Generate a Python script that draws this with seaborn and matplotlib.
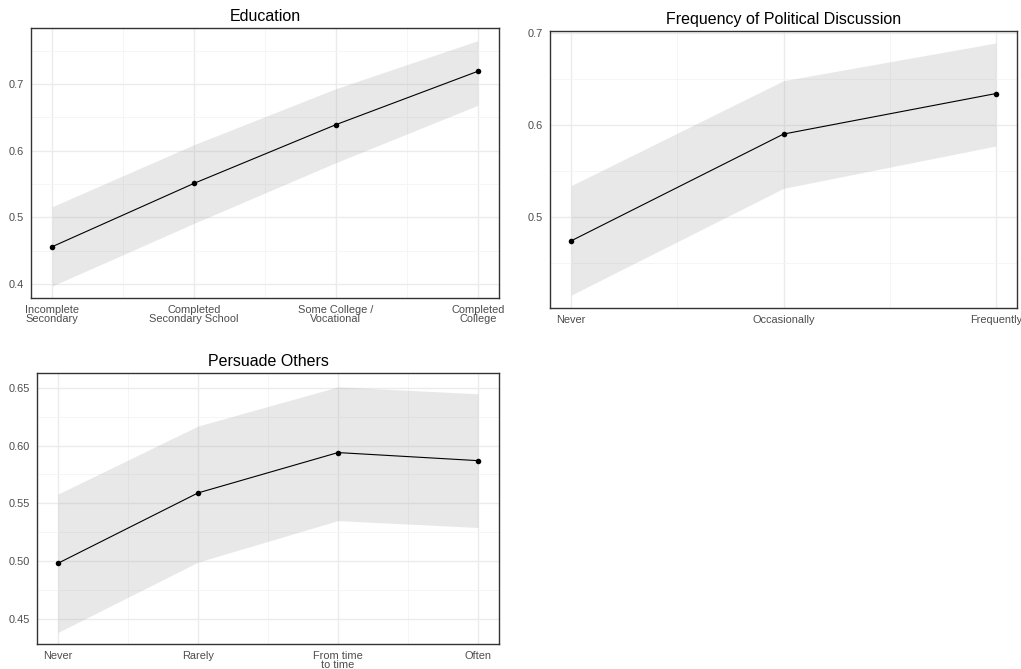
import numpy as np
import matplotlib
matplotlib.use("Agg")
import matplotlib.pyplot as plt
import seaborn as sns
from matplotlib.ticker import MultipleLocator, FixedLocator

# --- data ---
edu_labels = ["Incomplete\nSecondary", "Completed\nSecondary School",
              "Some College /\nVocational", "Completed\nCollege"]
edu_fit = [0.456, 0.551, 0.639, 0.719]
edu_lo = [0.397, 0.491, 0.582, 0.668]
edu_hi = [0.516, 0.609, 0.693, 0.765]

disc_labels = ["Never", "Occasionally", "Frequently"]
disc_fit = [0.474, 0.590, 0.634]
disc_lo = [0.415, 0.531, 0.577]
disc_hi = [0.534, 0.648, 0.689]

pers_labels = ["Never", "Rarely", "From time\nto time", "Often"]
pers_fit = [0.498, 0.559, 0.594, 0.587]
pers_lo = [0.438, 0.499, 0.535, 0.529]
pers_hi = [0.558, 0.617, 0.651, 0.645]

sns.set_theme(style="white")
plt.rcParams["font.family"] = ["Liberation Sans", "DejaVu Sans"]

fig = plt.figure(figsize=(10.21, 6.69), dpi=100)
W, H = 1021, 669


def px_axes(left, top, right, bottom):
    return fig.add_axes([left / W, 1 - bottom / H, (right - left) / W, (bottom - top) / H])


def panel(ax, title, labels, fit, lo, hi, ylim, ymaj, yfmt):
    x = np.arange(1, len(labels) + 1)
    ax.fill_between(x, lo, hi, color="#999999", alpha=0.22, linewidth=0, zorder=2)
    sns.lineplot(x=x, y=fit, ax=ax, color="black", linewidth=0.8,
                 marker="o", markersize=4, markeredgewidth=0, zorder=3)
    n = len(labels)
    pad = (n - 1) * 0.05
    ax.set_xlim(1 - pad, n + pad)
    ax.set_ylim(*ylim)
    ax.set_xticks(x)
    ax.set_xticklabels(labels, linespacing=0.85)
    ax.xaxis.set_minor_locator(FixedLocator(x[:-1] + 0.5))
    ax.yaxis.set_major_locator(MultipleLocator(ymaj))
    ax.yaxis.set_minor_locator(MultipleLocator(ymaj / 2))
    ax.yaxis.set_major_formatter(yfmt)
    ax.grid(which="major", color="#ebebeb", linewidth=1.0, zorder=0)
    ax.grid(which="minor", color="#f4f4f4", linewidth=0.6, zorder=0)
    ax.set_axisbelow(True)
    for s in ax.spines.values():
        s.set_color("#333333")
        s.set_linewidth(1.0)
    ax.tick_params(which="major", length=3, width=0.8, color="#333333",
                   labelsize=7.9, labelcolor="#4d4d4d", pad=2)
    ax.tick_params(which="minor", length=0)
    ax.set_xlabel("")
    ax.set_ylabel("")
    ax.set_title(title, fontsize=11.5, color="black", pad=5)


ax1 = px_axes(31, 28, 499, 298)
panel(ax1, "Education", edu_labels, edu_fit, edu_lo, edu_hi,
      (0.379, 0.784), 0.1, "{x:.1f}")

ax2 = px_axes(550, 31, 1017, 308)
panel(ax2, "Frequency of Political Discussion", disc_labels, disc_fit, disc_lo, disc_hi,
      (0.401, 0.702), 0.1, "{x:.1f}")

ax3 = px_axes(37, 373, 499, 644)
panel(ax3, "Persuade Others", pers_labels, pers_fit, pers_lo, pers_hi,
      (0.428, 0.663), 0.05, "{x:.2f}")

fig.savefig("out.png", dpi=100, facecolor="white")
